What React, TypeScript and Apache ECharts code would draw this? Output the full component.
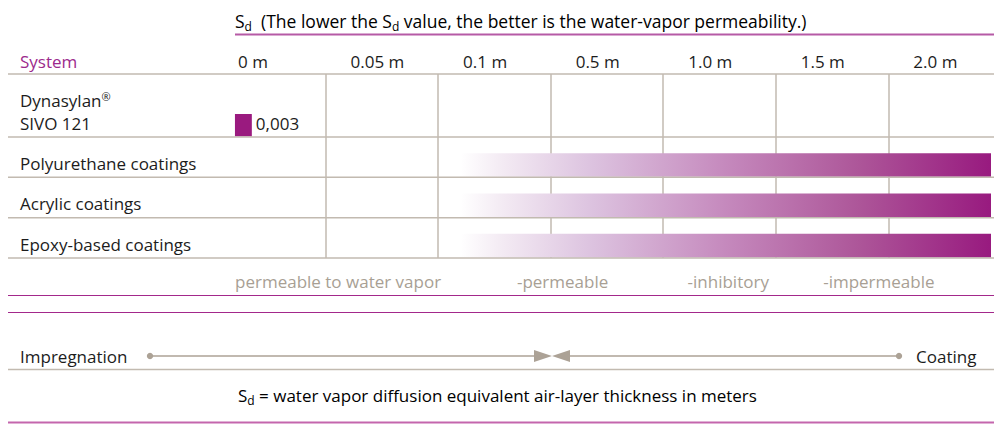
import React, { useEffect, useRef } from "react";
import * as echarts from "echarts";

// ---- data ----
const columnLabels = ["0 m", "0.05 m", "0.1 m", "0.5 m", "1.0 m", "1.5 m", "2.0 m"];
const systems = ["Dynasylan{sup|®}\nSIVO 121", "Polyurethane coatings", "Acrylic coatings", "Epoxy-based coatings"];
// extent of each system's mark, in column units of the S_d scale (column i starts at the i-th tick)
const rangeStart = [0.195, 2.2, 2.2, 2.2];
const rangeEnd = [0.345, 6.912, 6.912, 6.912];
const valueLabels = ["0,003", "", "", ""];
const classLabels = ["permeable to water vapor", "-permeable", "-inhibitory", "-impermeable"];
const classPositions = [0.195, 2.69, 4.2, 5.4];

const FONT = "'Open Sans', 'Noto Sans', sans-serif";
const FS = 17;
const PURPLE = "#9c2a8c";
const DARK = "#1c1c1c";
const GRAYLINE = "#c2bab0";
const GRAYTEXT = "#a89f94";
const GRAYARROW = "#aca296";

const GRID_LEFT = 213;
const GRID_TOP = 74;
const GRID_H = 184;
const Y_MIN = -0.5625;
const Y_MAX = 4;
const X_MAX = 6.912;

export default function App() {
  const ref = useRef<HTMLDivElement>(null);
  useEffect(() => {
    if (!ref.current) return;
    const chart = echarts.init(ref.current, null, { renderer: "svg" });
    const gradStops = [
      { offset: 0, color: "#ffffff" },
      { offset: 0.08, color: "#f3eaf3" },
      { offset: 0.25, color: "#dcc2df" },
      { offset: 0.5, color: "#c589bd" },
      { offset: 0.75, color: "#ad5699" },
      { offset: 1, color: "#981a7f" },
    ];
    const colPx = (c: number) => GRID_LEFT + (c / X_MAX) * (994 - GRID_LEFT);
    const line = (x1: number, y: number, x2: number, stroke: string, lineWidth: number) => ({
      type: "line",
      shape: { x1, y1: y, x2, y2: y },
      style: { stroke, lineWidth },
      silent: true,
    });
    const txt = (x: number, y: number, text: string, fill: string, extra: any = {}) => ({
      type: "text",
      x,
      y,
      style: { text, fill, font: `${FS}px ${FONT}`, verticalAlign: "middle", align: "left", ...extra },
      silent: true,
    });
    const subRich = (color: string, size: number) => ({
      m: { fontSize: size, fontFamily: FONT, color, lineHeight: 24 },
      sub: { fontSize: 12, fontFamily: FONT, color, padding: [10, 0, 0, 0] },
    });

    const option: any = {
      animation: false,
      grid: { left: GRID_LEFT, right: 0, top: GRID_TOP, height: GRID_H, containLabel: false },
      xAxis: {
        type: "value",
        position: "top",
        min: 0,
        max: X_MAX,
        interval: 1,
        axisLine: { show: false },
        axisTick: { show: false },
        axisLabel: {
          formatter: (v: number) => (Number.isInteger(v) ? columnLabels[v] ?? "" : ""),
          align: "left",
          padding: [0, 0, 0, 25],
          margin: 4,
          color: DARK,
          fontSize: FS,
          fontFamily: FONT,
        },
        splitLine: { show: true, showMinLine: false, showMaxLine: false, lineStyle: { color: GRAYLINE, width: 1.5 } },
      },
      yAxis: {
        type: "value",
        inverse: true,
        min: Y_MIN,
        max: Y_MAX,
        show: false,
        splitLine: { show: false },
      },
      series: [
        {
          type: "custom",
          clip: false,
          data: systems.map((s, i) => [i, rangeStart[i], rangeEnd[i]]),
          renderItem: (params: any, api: any) => {
            const i = api.value(0);
            const x0 = api.value(1);
            const x1 = api.value(2);
            const top = api.coord([x0, i + (i === 0 ? 0.43 : 0.4)]);
            const bot = api.coord([x1, i + 0.985]);
            const rowBottom = api.coord([0, i + 1])[1];
            const children: any[] = [];
            children.push({
              type: "rect",
              shape: { x: top[0], y: top[1], width: bot[0] - top[0], height: bot[1] - top[1] },
              style: {
                fill:
                  i === 0
                    ? "#9a1a7f"
                    : new echarts.graphic.LinearGradient(0, 0, 1, 0, gradStops),
              },
            });
            children.push({
              type: "line",
              shape: { x1: 8, y1: rowBottom, x2: 994, y2: rowBottom },
              style: { stroke: GRAYLINE, lineWidth: 1.5 },
            });
            children.push({
              type: "text",
              x: 20,
              y: rowBottom - 2.5,
              style: {
                text: systems[i],
                fill: DARK,
                font: `${FS}px ${FONT}`,
                lineHeight: 23,
                verticalAlign: "bottom",
                align: "left",
                rich: {
                  sup: { fontSize: 11, fontFamily: FONT, color: DARK, lineHeight: 10, verticalAlign: "top", padding: [2, 0, 0, 0] },
                },
              },
            });
            if (valueLabels[i]) {
              children.push({
                type: "text",
                x: bot[0] + 4,
                y: rowBottom - 13.5,
                style: { text: valueLabels[i], fill: DARK, font: `${FS}px ${FONT}`, verticalAlign: "middle", align: "left" },
              });
            }
            return { type: "group", children };
          },
        },
      ],
      graphic: [
        {
          type: "text",
          x: 235,
          y: 21,
          style: {
            text: "{m|S}{sub|d}{m|  (The lower the S}{sub|d}{m| value, the better is the water-vapor permeability.)}",
            rich: subRich(PURPLE, 17.5),
            verticalAlign: "middle",
            align: "left",
          },
          silent: true,
        },
        line(235, 34.5, 994, "#b65aa6", 2),
        txt(20, 61, "System", PURPLE),
        line(8, 74, 994, GRAYLINE, 1.5),
        ...classLabels.map((t, k) => txt(colPx(classPositions[k]), 281, t, GRAYTEXT)),
        line(8, 295.5, 994, "#a3288b", 1),
        line(8, 312.5, 994, "#a3288b", 1),
        txt(20, 356, "Impregnation", DARK),
        line(150, 356, 534, GRAYARROW, 1.5),
        line(570, 356, 899, GRAYARROW, 1.5),
        { type: "circle", shape: { cx: 150, cy: 356, r: 3.2 }, style: { fill: GRAYARROW }, silent: true },
        { type: "circle", shape: { cx: 899, cy: 356, r: 3.2 }, style: { fill: GRAYARROW }, silent: true },
        { type: "polygon", shape: { points: [[534, 350], [552, 356], [534, 362]] }, style: { fill: GRAYARROW }, silent: true },
        { type: "polygon", shape: { points: [[570, 350], [552, 356], [570, 362]] }, style: { fill: GRAYARROW }, silent: true },
        txt(916, 356, "Coating", DARK),
        line(8, 369.5, 994, GRAYLINE, 1.5),
        {
          type: "text",
          x: 238,
          y: 395,
          style: {
            text: "{m|S}{sub|d}{m| = water vapor diffusion equivalent air-layer thickness in meters}",
            rich: subRich(DARK, 17),
            verticalAlign: "middle",
            align: "left",
          },
          silent: true,
        },
        line(8, 422.5, 994, "#c466ad", 2),
      ],
    };
    chart.setOption(option);
    return () => chart.dispose();
  }, []);
  return (
    <div
      ref={ref}
      style={{ position: "absolute", left: 0, top: 0, width: 994, height: 428, background: "#ffffff" }}
    />
  );
}
